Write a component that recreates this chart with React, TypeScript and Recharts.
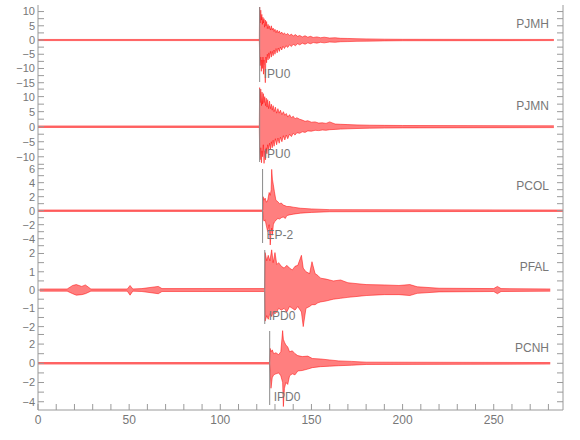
import React from "react";
import { Area, ComposedChart, ReferenceLine, XAxis, YAxis } from "recharts";

// time axis ticks (seconds)
const xTicks = [0, 10, 20, 30, 40, 50, 60, 70, 80, 90, 100, 110, 120, 130, 140, 150, 160, 170, 180, 190, 200, 210, 220, 230, 240, 250, 260, 270, 280];
const xLabels = [0, 50, 100, 150, 200, 250];

// PJMH envelope (upper / lower amplitude)
const pjmhTime = [0, 121.4, 121.6, 121.9, 122.2, 122.5, 122.8, 123.1, 123.4, 123.7, 124.0, 124.3, 124.7, 125.0, 125.4, 125.8, 126.2, 126.6, 127.0, 127.5, 128.0, 128.5, 129.0, 129.5, 130.0, 130.6, 131.2, 131.8, 132.4, 133.0, 133.7, 134.4, 135.2, 136.0, 137.0, 138.0, 139.0, 140.0, 141.2, 142.4, 143.6, 145, 146.5, 148, 149.5, 151, 153, 155, 157, 160, 163, 166, 170, 175, 180, 190, 200, 283];
const pjmhHigh = [0.2, 0.2, 11.6, 6, 10.5, 7, 9, 5.5, 8, 6, 7.5, 4.5, 7, 5, 6.5, 4, 5.5, 4, 5, 3.5, 5, 3.5, 4.2, 3, 3.8, 2.6, 3.5, 2.5, 3.2, 2.2, 2.8, 2, 2.5, 1.8, 2.3, 1.6, 2.1, 1.4, 1.9, 1.3, 1.6, 1.1, 1.5, 1, 1.3, 0.9, 1.1, 0.8, 1.0, 0.7, 0.8, 0.6, 0.55, 0.45, 0.4, 0.3, 0.25, 0.2];
const pjmhLow = [-0.2, -0.2, -5, -9, -6, -11, -7, -10, -6, -12, -7, -9, -15, -6, -8, -5, -7, -4.5, -6.5, -4, -6, -4, -5.5, -3.5, -5, -3, -4.5, -2.8, -4, -2.5, -3.5, -2.2, -3, -2, -2.6, -1.7, -2.3, -1.5, -2, -1.3, -1.7, -1.1, -1.5, -1, -1.3, -0.9, -1.1, -0.8, -1, -0.7, -0.8, -0.6, -0.55, -0.45, -0.4, -0.3, -0.25, -0.2];

// PJMN
const pjmnTime = [0, 121.4, 121.6, 121.9, 122.2, 122.6, 122.9, 123.2, 123.6, 124.0, 124.4, 124.8, 125.2, 125.6, 126.0, 126.5, 127.0, 127.5, 128.0, 128.5, 129.0, 129.5, 130.2, 130.9, 131.6, 132.3, 133.0, 133.8, 134.6, 135.4, 136.2, 137.0, 138.0, 139.0, 140.0, 141.0, 142.0, 143.5, 145, 146.5, 148, 150, 152, 154, 156, 158, 160, 163, 166, 170, 175, 182, 190, 200, 283];
const pjmnHigh = [0.25, 0.25, 13, 8, 12.5, 7, 11.5, 7.5, 11, 8, 10, 7, 9.5, 6.5, 9, 6, 8.5, 6, 7.5, 5.5, 7, 5, 6.5, 4.5, 6, 4.5, 5.5, 4, 5, 3.8, 4.4, 3.2, 4, 3, 3.5, 2.6, 3, 2.5, 2.2, 1.8, 2, 1.5, 1.6, 1.2, 1.3, 1.1, 1.6, 0.9, 0.8, 0.7, 0.6, 0.5, 0.45, 0.4, 0.3];
const pjmnLow = [-0.25, -0.25, -8, -11, -7, -12, -8, -10, -6, -12.2, -8, -11, -7, -9, -6, -8, -5.5, -7.5, -5, -7, -4.5, -6.5, -4, -6, -3.8, -5.5, -3.5, -5, -3, -4.4, -2.8, -4, -2.5, -3.3, -2.2, -2.8, -2, -2.2, -1.7, -1.9, -1.4, -1.5, -1.2, -1.3, -1.1, -1.2, -1.0, -0.9, -0.8, -0.7, -0.6, -0.5, -0.45, -0.4, -0.3];

// PCOL
const pcolTime = [0, 123.3, 123.5, 124.0, 124.6, 125.3, 126.0, 126.8, 127.4, 127.9, 128.2, 128.6, 129.1, 129.7, 130.5, 131.5, 132.5, 133.5, 134.5, 135.7, 136.5, 138, 140, 144, 150, 160, 288];
const pcolHigh = [0.1, 0.1, 2.0, 1.5, 1.8, 1.2, 1.5, 2.6, 2.2, 3, 5.9, 4.5, 3.7, 2.7, 1.5, 1.3, 1, 1.1, 0.8, 0.7, 0.6, 0.6, 0.5, 0.35, 0.25, 0.15, 0.1];
const pcolLow = [-0.1, -0.1, -1.2, -1.5, -1.3, -2.2, -3, -2, -4.9, -3, -2.5, -3.5, -2, -1.6, -1.4, -1.1, -1.2, -1, -0.9, -1.1, -0.7, -0.6, -0.5, -0.35, -0.25, -0.15, -0.1];

// PFAL
const pfalTime = [1, 16, 19, 21, 24, 26, 29, 49, 50.5, 52, 57, 66, 68, 90, 124.3, 124.6, 125.5, 126.3, 127.2, 128.2, 129.0, 130.0, 131, 132, 133.5, 135, 136.5, 138, 139.5, 141, 142.5, 144.5, 145.5, 147, 149, 150.3, 152, 153.5, 155, 158, 162, 166, 170, 175, 180, 190, 198, 204, 208, 220, 250, 252, 254, 281];
const pfalHigh = [0.06, 0.06, 0.25, 0.3, 0.2, 0.28, 0.06, 0.06, 0.25, 0.06, 0.08, 0.2, 0.08, 0.08, 0.08, 2.05, 1.6, 1.9, 1.6, 2.2, 1.5, 2.05, 1.4, 1.5, 1.3, 1.2, 1.35, 1.2, 1.1, 1.3, 1.35, 1.9, 1.2, 1.0, 0.9, 1.55, 0.9, 0.8, 0.65, 0.6, 0.5, 0.55, 0.4, 0.35, 0.3, 0.28, 0.25, 0.3, 0.18, 0.1, 0.08, 0.2, 0.08, 0.06];
const pfalLow = [-0.06, -0.06, -0.2, -0.28, -0.25, -0.2, -0.06, -0.06, -0.28, -0.06, -0.08, -0.2, -0.08, -0.08, -0.08, -1.7, -1.4, -1.6, -1.3, -1.45, -1.2, -1.3, -1.2, -1.0, -1.1, -1.0, -1.2, -0.9, -1.0, -1.1, -0.9, -1.2, -2.0, -1.0, -0.9, -0.8, -0.8, -0.7, -0.65, -0.6, -0.5, -0.45, -0.4, -0.35, -0.3, -0.25, -0.25, -0.3, -0.18, -0.1, -0.08, -0.2, -0.08, -0.06];

// PCNH
const pcnhTime = [0, 127.0, 127.4, 127.8, 128.5, 129.3, 130.5, 132, 133.2, 134.2, 134.6, 135.2, 136, 137, 138, 139.5, 141, 142.5, 145, 148, 150.5, 155, 160, 165, 172, 180, 281];
const pcnhHigh = [0.08, 0.08, 1.55, 1.2, 1.4, 1.0, 1.1, 0.9, 1.2, 3.4, 2.5, 2.2, 1.9, 1.7, 1.2, 1.3, 1.0, 0.8, 0.7, 0.75, 0.5, 0.45, 0.35, 0.25, 0.2, 0.12, 0.08];
const pcnhLow = [-0.08, -0.08, -1.0, -2.6, -1.5, -1.2, -1.1, -1.0, -1.3, -2, -4.5, -2.6, -2, -2.2, -1.3, -1.1, -1.2, -0.8, -0.75, -0.6, -0.45, -0.35, -0.3, -0.25, -0.2, -0.12, -0.08];

const stations = ["PJMH", "PJMN", "PCOL", "PFAL", "PCNH"];
const pickTimes = [121.6, 121.6, 123.2, 124.4, 127.1];
const pickLabels = ["IPU0", "IPU0", "EP-2", "IPD0", "IPD0"];
const yDomains = [[-16.5, 12.3], [-13.4, 13.2], [-5.33, 6.24], [-2.13, 2.3], [-4.86, 3.57]];
const yLabelTicks = [
  [-15, -10, -5, 0, 5, 10],
  [-10, -5, 0, 5, 10],
  [-4, -2, 0, 2, 4, 6],
  [-2, -1, 0, 1, 2],
  [-4, -2, 0, 2],
];
const yAllTicks = [
  [-15, -12.5, -10, -7.5, -5, -2.5, 0, 2.5, 5, 7.5, 10],
  [-12.5, -10, -7.5, -5, -2.5, 0, 2.5, 5, 7.5, 10, 12.5],
  [-5, -4, -3, -2, -1, 0, 1, 2, 3, 4, 5, 6],
  [-2, -1.5, -1, -0.5, 0, 0.5, 1, 1.5, 2],
  [-4, -3, -2, -1, 0, 1, 2, 3],
];
const traces = [
  [pjmhTime, pjmhHigh, pjmhLow],
  [pjmnTime, pjmnHigh, pjmnLow],
  [pcolTime, pcolHigh, pcolLow],
  [pfalTime, pfalHigh, pfalLow],
  [pcnhTime, pcnhHigh, pcnhLow],
];

const panelTops = [5, 87, 167, 248, 329];
const panelHeights = [82, 80, 81, 81, 81];
const axisColor = "#9a9a9a";
const textColor = "#777";
const red = "#ff0000";
const PAD = 8;

const fmt = (v: number) => (v < 0 ? "\u2212" + Math.abs(v) : String(v));

function Panel({ i }: { i: number }) {
  const last = i === stations.length - 1;
  const [time, high, low] = traces[i];
  const data = time.map((t, k) => ({ t, band: [low[k], high[k]] }));
  const domain = yDomains[i];
  const h = panelHeights[i];
  const span = domain[1] - domain[0];
  const segTop = domain[1] - (span * 2) / h;
  const segBottom = domain[0] + (span * 5) / h;
  const labels = yLabelTicks[i];

  return (
    <div style={{ position: "absolute", left: 0, top: panelTops[i] - PAD }}>
      <ComposedChart
        width={580}
        height={h + PAD + (last ? 26 : PAD)}
        data={data}
        margin={{ top: PAD, right: 0, bottom: last ? 0 : PAD, left: 0 }}
      >
        <XAxis
          xAxisId="top"
          orientation="top"
          type="number"
          dataKey="t"
          domain={[0, 288]}
          ticks={xTicks}
          interval={0}
          height={0}
          tickSize={-6}
          tickFormatter={() => ""}
          stroke={axisColor}
          allowDataOverflow
        />
        <XAxis
          xAxisId="bottom"
          orientation="bottom"
          type="number"
          dataKey="t"
          domain={[0, 288]}
          ticks={xTicks}
          interval={0}
          height={last ? 26 : 0}
          tickSize={-6}
          tickMargin={11}
          tickFormatter={(v: number) => (last && xLabels.includes(v) ? String(v) : "")}
          tick={{ fill: textColor, fontSize: 12 }}
          stroke={axisColor}
          allowDataOverflow
        />
        <YAxis
          yAxisId="left"
          orientation="left"
          type="number"
          domain={domain}
          ticks={yAllTicks[i]}
          interval={0}
          width={38}
          tickSize={-6}
          tickMargin={9}
          tickFormatter={(v: number) => (labels.includes(v) ? fmt(v) : "")}
          tick={{ fill: textColor, fontSize: 11 }}
          stroke={axisColor}
          allowDataOverflow
        />
        <YAxis
          yAxisId="right"
          orientation="right"
          type="number"
          domain={domain}
          ticks={yAllTicks[i]}
          interval={0}
          width={17}
          tickSize={-6}
          tickFormatter={() => ""}
          stroke={axisColor}
          allowDataOverflow
        />
        <Area
          xAxisId="bottom"
          yAxisId="left"
          type="linear"
          dataKey="band"
          stroke={red}
          strokeWidth={0.5}
          fill={red}
          fillOpacity={0.5}
          dot={false}
          activeDot={false}
          isAnimationActive={false}
        />
        <ReferenceLine
          xAxisId="bottom"
          yAxisId="left"
          segment={[
            { x: pickTimes[i], y: segTop },
            { x: pickTimes[i], y: segBottom },
          ]}
          stroke="#8a8a8a"
          strokeWidth={1}
          label={{
            value: pickLabels[i],
            position: "insideBottomLeft",
            offset: 4,
            fill: textColor,
            fontSize: 12,
          }}
        />
      </ComposedChart>
      <div
        style={{
          position: "absolute",
          right: 31,
          top: PAD + 13,
          fontSize: 12,
          lineHeight: "12px",
          color: textColor,
        }}
      >
        {stations[i]}
      </div>
    </div>
  );
}

export default function App() {
  return (
    <div
      style={{
        position: "absolute",
        left: 0,
        top: 0,
        width: 580,
        height: 440,
        background: "#fff",
        fontFamily: '"Liberation Sans", Arial, sans-serif',
      }}
    >
      {stations.map((s, i) => (
        <Panel key={s} i={i} />
      ))}
    </div>
  );
}
